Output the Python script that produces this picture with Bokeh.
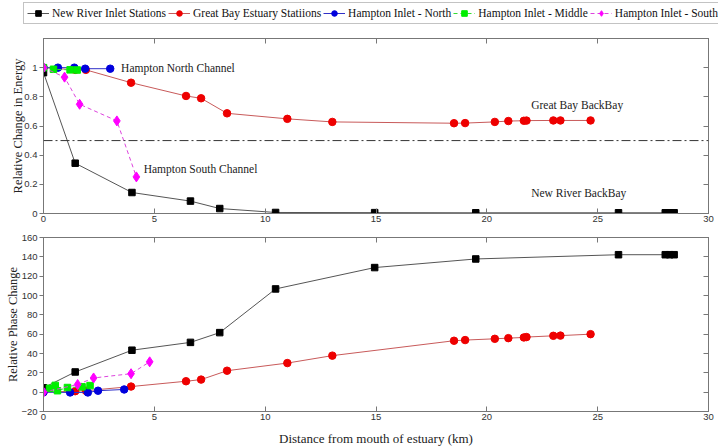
from bokeh.plotting import figure
from bokeh.models import (Range1d, LinearAxis, FixedTicker, Span, Legend,
                          LegendItem, ColumnDataSource)
from bokeh.layouts import column
from bokeh.core.properties import value
from bokeh.embed import file_html
from bokeh.resources import INLINE

# ---------------- data ----------------
new_river_km = [0, 1.43, 3.99, 6.63, 7.95, 10.47, 14.94, 19.5, 25.94, 28.05, 28.25, 28.45]
new_river_energy = [0.966, 0.345, 0.144, 0.085, 0.034, 0.007, 0.006, 0.005, 0.005, 0.005, 0.005, 0.005]
new_river_phase = [4.5, 20.9, 43.4, 51.5, 61.6, 106.8, 128.9, 137.8, 142.2, 142.2, 142.2, 142.2]

great_bay_km = [0, 1.43, 1.91, 3.95, 6.43, 7.11, 8.28, 11.0, 13.03, 18.52, 19.02,
                20.36, 20.97, 21.67, 21.79, 23.0, 23.32, 24.68]
great_bay_energy = [1.0, 0.985, 0.985, 0.897, 0.806, 0.79, 0.687, 0.649, 0.628, 0.619, 0.62,
                    0.628, 0.634, 0.636, 0.637, 0.638, 0.638, 0.638]
great_bay_phase = [0, 1.0, 1.5, 5.8, 11.3, 13.0, 22.2, 30.1, 37.8, 53.2, 53.9,
                   55.2, 55.9, 56.6, 57.0, 58.3, 58.5, 60.0]

north_energy_km = [0, 0.65, 1.39, 1.88, 3.01]
north_energy = [1.0, 1.0, 1.0, 0.993, 0.993]
north_phase_km = [0, 1.2, 2.0, 2.46, 3.64]
north_phase = [0, -0.3, -0.3, 1.5, 2.8]

middle_energy_km = [0, 0.45, 1.2, 1.52]
middle_energy = [1.0, 0.989, 0.985, 0.984]
middle_phase_km = [0.27, 0.53, 0.63, 1.08, 1.74, 2.1]
middle_phase = [4.0, 7.0, 1.5, 4.8, 5.5, 6.8]

south_energy_km = [0, 0.95, 1.63, 3.31, 4.19]
south_energy = [1.0, 0.935, 0.749, 0.635, 0.251]
south_phase_km = [0, 1.54, 2.26, 3.95, 4.79]
south_phase = [0, 7.9, 14.7, 19.1, 31.4]

note_text = ["Hampton North Channel", "Great Bay BackBay", "Hampton South Channel", "New River BackBay"]
note_km = [3.5, 22.0, 4.52, 22.0]
note_energy = [1.0, 0.744, 0.304, 0.144]

x_ticks = [0, 5, 10, 15, 20, 25, 30]
energy_ticks = [0, 0.2, 0.4, 0.6, 0.8, 1.0]
energy_ticks_right = [0, 0.2, 0.4, 0.6, 0.8, 1.0, 1.2]
phase_ticks = [-20, 0, 20, 40, 60, 80, 100, 120, 140, 160]

# ---------------- styles ----------------
AX = "#777777"
SANS = "Liberation Sans"
SERIF = "Liberation Serif"

series_style = [
    # name, line colour, marker colour, marker, size, dash
    ("New River Inlet Stations", "#555555", "#000000", "square", 6.5, "solid"),
    ("Great Bay Estuary Statiions", "#c85a5a", "#ee0000", "circle", 7.5, "solid"),
    ("Hampton Inlet - North", "#3030c8", "#0000dd", "circle", 7.5, "solid"),
    ("Hampton Inlet - Middle", "#33dd33", "#00ee00", "square", 6.5, "4 3"),
    ("Hampton Inlet - South", "#dd44dd", "#ff00ff", "diamond", 10, "4 3"),
]


def style_axis(ax, ticks, labels=True, t_in=0, t_out=0):
    ax.ticker = FixedTicker(ticks=ticks)
    ax.axis_line_color = AX
    ax.major_tick_line_color = AX
    ax.minor_tick_line_color = None
    ax.major_tick_in = t_in
    ax.major_tick_out = t_out
    ax.major_label_text_font = SANS
    ax.major_label_text_color = "#333333"
    ax.major_label_text_font_size = "9.5px"
    if labels:
        ax.major_label_standoff = 2
    else:
        ax.major_label_overrides = {t: "" for t in ticks}
        ax.major_label_standoff = 0


def make_fig(height, mbt, mbb, yr, yticks, yticks_right, ylabel, label_off):
    p = figure(width=718, height=height, x_range=Range1d(0, 30), y_range=Range1d(*yr),
               output_backend="svg", toolbar_location=None,
               min_border_left=43, min_border_right=10, min_border_top=mbt, min_border_bottom=mbb)
    p.grid.visible = False
    p.outline_line_color = AX
    p.background_fill_color = "white"
    p.border_fill_color = "white"
    xa = p.below[0]
    ya = p.left[0]
    style_axis(xa, x_ticks, True, 5, 0)
    style_axis(ya, yticks, True, 0, 4)
    ya.axis_label = ylabel
    ya.axis_label_text_font = SERIF
    ya.axis_label_text_font_size = "12.5px"
    ya.axis_label_text_font_style = "normal"
    ya.axis_label_text_color = "#222222"
    ya.axis_label_standoff = label_off
    top = LinearAxis()
    style_axis(top, x_ticks, False, 5, 0)
    p.add_layout(top, "above")
    right = LinearAxis()
    style_axis(right, yticks_right, False, 5, 0)
    p.add_layout(right, "right")
    return p, xa, ya


def add_series(p, xs, ys, st):
    name, lc, mc, marker, size, dash = st
    r1 = p.line(xs, ys, line_color=lc, line_width=1, line_dash=dash)
    r2 = p.scatter(xs, ys, marker=marker, size=size, fill_color=mc, line_color=mc)
    return [r1, r2]


energy_sets = [(new_river_km, new_river_energy), (great_bay_km, great_bay_energy),
               (north_energy_km, north_energy), (middle_energy_km, middle_energy),
               (south_energy_km, south_energy)]
phase_sets = [(new_river_km, new_river_phase), (great_bay_km, great_bay_phase),
              (north_phase_km, north_phase), (middle_phase_km, middle_phase),
              (south_phase_km, south_phase)]

# ---------------- legend strip (its renderers lie outside its own view) ----------------
p0 = figure(width=718, height=30, x_range=Range1d(-100, -99), y_range=Range1d(-100, -99),
            output_backend="svg", toolbar_location=None,
            x_axis_location=None, y_axis_location=None,
            min_border_left=0, min_border_right=0, min_border_top=0, min_border_bottom=0)
p0.frame_align = False
p0.grid.visible = False
p0.outline_line_color = None
items = []
for (xs, ys), st in zip(energy_sets, series_style):
    rs = add_series(p0, xs, ys, st)
    items.append(LegendItem(label=st[0], renderers=rs))
legend = Legend(items=items, orientation="horizontal", location=(23, 6),
                label_text_font=SERIF, label_text_font_size="11.5px",
                label_text_color="#111111", glyph_width=22, glyph_height=14,
                label_height=14, label_standoff=3, spacing=2, padding=3, margin=0,
                border_line_color="#888888", border_line_width=1,
                background_fill_color="white", background_fill_alpha=1)
p0.add_layout(legend)

# ---------------- top panel ----------------
p1, x1, y1 = make_fig(200, 8, 17, (0, 1.2), energy_ticks, energy_ticks_right,
                      "Relative Change in Energy", -4)
y1.major_label_overrides = {0: "0", 1: "1"}
p1.add_layout(Span(location=0.5, dimension="width", line_color="#333333",
                   line_width=1, line_dash="9 3 2 3"))

for (xs, ys), st in zip(energy_sets, series_style):
    add_series(p1, xs, ys, st)

notes = ColumnDataSource(dict(x=note_km, y=note_energy, t=note_text))
p1.text(x="x", y="y", text="t", source=notes, text_font=value(SERIF),
        text_font_size="11.5px", text_baseline="middle", text_align="left",
        text_color="#222222")

# ---------------- bottom panel ----------------
p2, x2, y2 = make_fig(218, 7, 35, (-20, 160), phase_ticks, phase_ticks,
                      "Relative Phase Change", -2)
x2.axis_label = "Distance from mouth of estuary (km)"
x2.axis_label_text_font = SERIF
x2.axis_label_text_font_size = "13px"
x2.axis_label_text_font_style = "normal"
x2.axis_label_text_color = "#222222"
x2.axis_label_standoff = 8

for (xs, ys), st in zip(phase_sets, series_style):
    add_series(p2, xs, ys, st)

layout = column(p0, p1, p2, spacing=0)
open("out.html", "w").write(file_html(layout, INLINE))
